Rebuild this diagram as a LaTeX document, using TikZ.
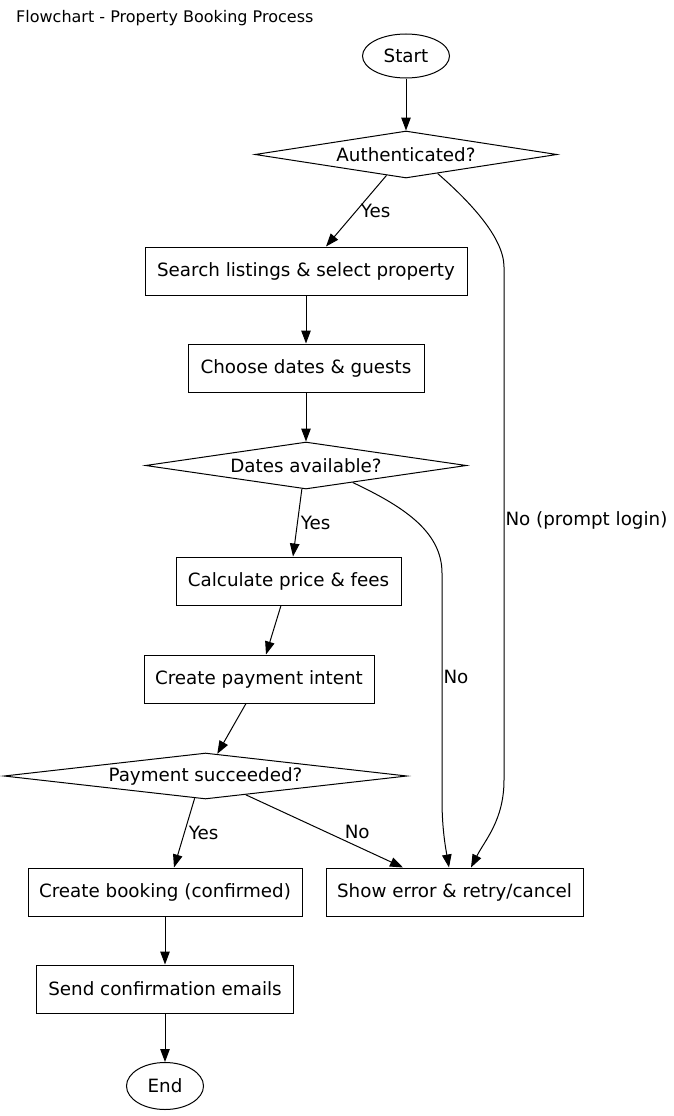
\documentclass[tikz,border=0pt]{standalone}
\usepackage{fontspec}
\setmainfont{DejaVu Sans}
\usetikzlibrary{shapes.geometric,arrows.meta}

\begin{document}
\begin{tikzpicture}[x=1pt,y=-1pt,
  box/.style={draw,rectangle,line width=1pt,minimum height=48pt,inner sep=0pt,font=\fontsize{18.3}{22}\selectfont},
  dec/.style={draw,diamond,line width=1pt,inner sep=0pt,font=\fontsize{18.3}{22}\selectfont},
  term/.style={draw,ellipse,line width=1pt,inner sep=0pt,font=\fontsize{18.3}{22}\selectfont},
  lbl/.style={inner sep=1pt,font=\fontsize{18.3}{22}\selectfont},
  arr/.style={-{Triangle[length=13pt,width=9.5pt]},line width=1pt}]
\useasboundingbox (0,0) rectangle (674,1116);
\node[anchor=west,inner sep=0pt,font=\fontsize{16}{19}\selectfont] (title) at (16,18) {Flowchart - Property Booking Process};
% Nodes
\node[term,minimum width=87pt,minimum height=44pt] (start) at (406,56) {Start};
\node[dec,minimum width=302pt,minimum height=47pt,aspect=6.4] (auth) at (406,154.5) {Authenticated?};
\node[box,minimum width=322pt] (search) at (306,271) {Search listings \& select property};
\node[box,minimum width=236pt] (choose) at (306,368) {Choose dates \& guests};
\node[dec,minimum width=321pt,minimum height=47pt,aspect=6.8] (dates) at (306,465.5) {Dates available?};
\node[box,minimum width=225pt] (calc) at (288.5,581) {Calculate price \& fees};
\node[box,minimum width=230pt] (payint) at (259,679) {Create payment intent};
\node[dec,minimum width=403pt,minimum height=46pt,aspect=8.7] (pay) at (205.5,776) {Payment succeeded?};
\node[box,minimum width=274pt] (booking) at (165,892) {Create booking (confirmed)};
\node[box,minimum width=257pt] (sherr) at (454.5,892) {Show error \& retry/cancel};
\node[box,minimum width=257pt] (send) at (165,989) {Send confirmation emails};
\node[term,minimum width=77pt,minimum height=47pt] (end) at (165,1086) {End};
% Edges
\draw[arr] (start) -- (auth);
\draw[arr] (auth.-133) -- ([xshift=20pt]search.north) node[lbl,midway,right=3pt] {Yes};
\draw[arr] (auth.-31) .. controls (468,200) and (504,237) .. (504,267) -- (504,780)
  node[lbl,pos=0.495,right] {No (prompt login)} .. controls (504,820) and (485,840) .. ([xshift=16.5pt]sherr.north);
\draw[arr] (search) -- (choose);
\draw[arr] (choose) -- (dates);
\draw[arr] (dates.-100) -- ([xshift=4.5pt]calc.north) node[lbl,midway,right=2pt] {Yes};
\draw[arr] (dates.-20) .. controls (400,505) and (442,530) .. (442,573) -- (442,800)
  node[lbl,pos=0.46,right] {No} .. controls (442,830) and (446,850) .. ([xshift=-5.5pt]sherr.north);
\draw[arr] ([xshift=-7.5pt]calc.south) -- ([xshift=7pt]payint.north);
\draw[arr] ([xshift=-13pt]payint.south) -- (pay.62);
\draw[arr] (pay.-116) -- ([xshift=9pt]booking.north) node[lbl,midway,right=3pt] {Yes};
\draw[arr] (pay.-25) -- ([xshift=-51.5pt]sherr.north) node[lbl,pos=0.62,anchor=south west] {No};
\draw[arr] (booking) -- (send);
\draw[arr] (send) -- (end);
\end{tikzpicture}
\end{document}
